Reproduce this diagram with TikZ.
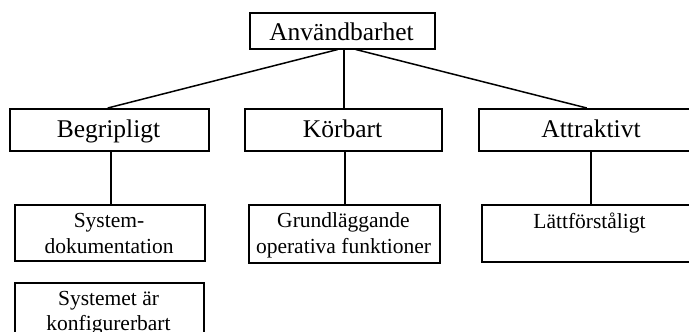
\documentclass[tikz,border=0pt]{standalone}
\usepackage{fontspec}
\setmainfont{Liberation Serif}
\begin{document}
\begin{tikzpicture}[x=1pt, y=-1pt,
  box/.style={draw, line width=1.5pt, inner sep=0pt, anchor=north west},
  conn/.style={draw, line width=1.5pt},
  bigtext/.style={inner sep=0pt, anchor=base, font=\fontsize{25.5}{30}\selectfont},
  smalltext/.style={inner sep=0pt, anchor=base, align=center, font=\fontsize{21.5}{26}\selectfont}]
  \useasboundingbox (0,0) rectangle (689,332);
  \clip (0,0) rectangle (689,332);

  % boxes
  \node[box, minimum width=185pt, minimum height=36pt] (top) at (249,12) {};
  \node[box, minimum width=199pt, minimum height=42pt] (begr) at (9,108) {};
  \node[box, minimum width=197pt, minimum height=42pt] (korb) at (244,108) {};
  \node[box, minimum width=226pt, minimum height=42pt] (attr) at (478,108) {};
  \node[box, minimum width=190pt, minimum height=56pt] (sysdok) at (14,204) {};
  \node[box, minimum width=191pt, minimum height=58pt] (grund) at (248,204) {};
  \node[box, minimum width=217pt, minimum height=57pt] (latt) at (481,204) {};
  \node[box, minimum width=189pt, minimum height=60pt] (konf) at (14,282) {};

  % texts
  \node[bigtext] (topt) at (341.5,40) {Användbarhet};
  \node[bigtext] (begrt) at (108.5,137) {Begripligt};
  \node[bigtext] (korbt) at (342.5,137) {Körbart};
  \node[bigtext] (attrt) at (591,137) {Attraktivt};
  \node[smalltext] (sysdok1) at (109,227) {System-};
  \node[smalltext] (sysdok2) at (109,253) {dokumentation};
  \node[smalltext] (grund1) at (343.5,227) {Grundläggande};
  \node[smalltext] (grund2) at (343.5,253) {operativa funktioner};
  \node[smalltext] (lattt) at (589.5,228) {Lättförståligt};
  \node[smalltext] (konf1) at (108.5,305) {Systemet är};
  \node[smalltext] (konf2) at (108.5,330) {konfigurerbart};

  % connectors
  \draw[conn] ([xshift=-4.5pt]top.south) -- ([xshift=-1.5pt]begr.north);
  \draw[conn] ([xshift=1.5pt]top.south) -- ([xshift=0.5pt]korb.north);
  \draw[conn] ([xshift=13.5pt]top.south) -- ([xshift=-5pt]attr.north);
  \draw[conn] ([xshift=1.5pt]begr.south) -- ([xshift=1pt]sysdok.north);
  \draw[conn] ([xshift=1.5pt]korb.south) -- ([xshift=0.5pt]grund.north);
  \draw[conn] ([xshift=-1pt]attr.south) -- ([xshift=0.5pt]latt.north);
\end{tikzpicture}
\end{document}
